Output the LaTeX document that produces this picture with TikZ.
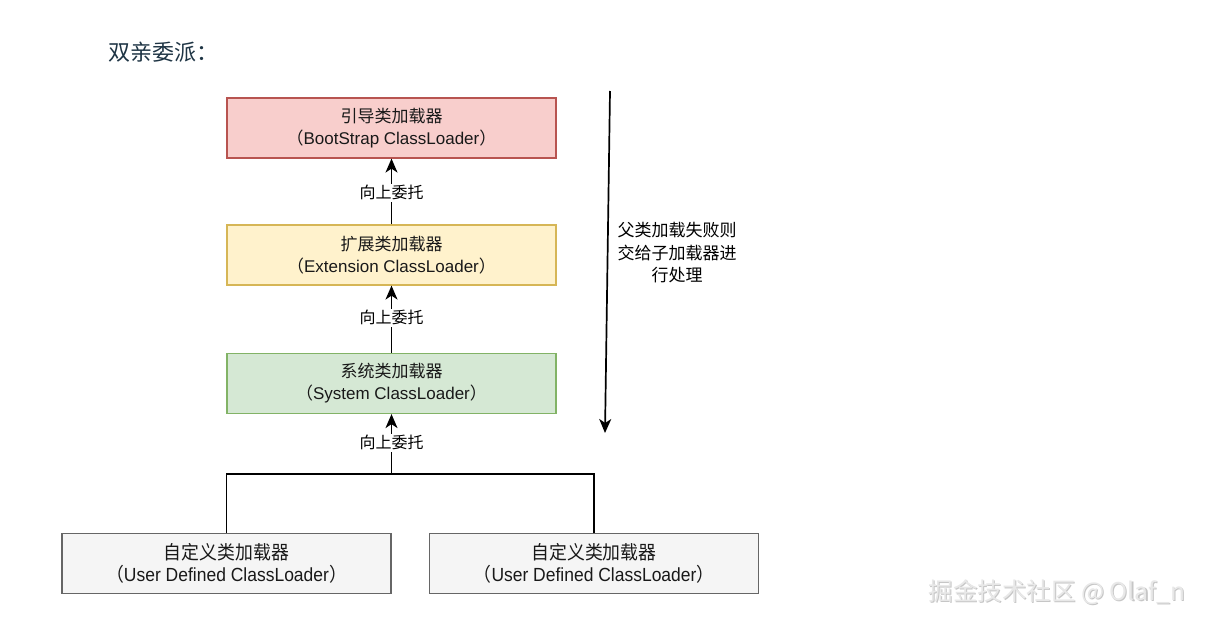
\documentclass[tikz,border=0pt]{standalone}
\usepackage{fontspec}
\setmainfont{Liberation Sans}
\newfontfamily\cjk{Noto Sans CJK SC}
\newfontfamily\cjkn[FakeStretch=0.94]{Noto Sans CJK SC}
\newfontfamily\latn[FakeStretch=0.92]{Liberation Sans}
\usetikzlibrary{arrows.meta}
\definecolor{redfill}{HTML}{F8CECC}\definecolor{reddraw}{HTML}{B85450}
\definecolor{yelfill}{HTML}{FFF2CC}\definecolor{yeldraw}{HTML}{D6B656}
\definecolor{grnfill}{HTML}{D5E8D4}\definecolor{grndraw}{HTML}{82B366}
\definecolor{gryfill}{HTML}{F5F5F5}\definecolor{grydraw}{HTML}{666666}
\definecolor{titlecol}{RGB}{30,52,68}
\tikzset{
  loaderbox/.style={draw, line width=1.2pt, minimum width=329pt, minimum height=60pt, inner sep=0pt, align=center, text=black!90,
    font=\fontsize{17}{22}\selectfont},
  userbox/.style={loaderbox, font=\fontsize{19}{22}\selectfont},
  arr/.style={line width=1.7pt, -{Stealth[length=14pt,width=12pt,inset=4pt]}},
  conn/.style={line width=1.7pt},
  lbl/.style={fill=white, inner sep=1.5pt, font=\cjk\fontsize{16}{20}\selectfont},
}
\begin{document}
\begin{tikzpicture}[x=1pt,y=-1pt]
\useasboundingbox (0,0) rectangle (1209,624);
\fill[white] (0,0) rectangle (1209,624);
\node[anchor=west, text=titlecol, font=\cjk\fontsize{22}{26}\selectfont] (title) at (105,52) {双亲委派：};

\node[loaderbox, fill=redfill, draw=reddraw] (boot) at (391.5,128) {{\cjk 引导类加载器}\\{\cjk （}BootStrap ClassLoader{\cjk ）}};
\node[loaderbox, fill=yelfill, draw=yeldraw] (ext) at (391.5,255) {{\cjk 扩展类加载器}\\{\cjk （}Extension ClassLoader{\cjk ）}};
\node[loaderbox, fill=grnfill, draw=grndraw] (sys) at (391.5,383.5) {{\cjk 系统类加载器}\\{\cjk （}System ClassLoader{\cjk ）}};
\node[userbox, fill=gryfill, draw=grydraw] (user1) at (226.5,563.5) {{\cjkn 自定义类加载器}\\{\cjkn （}{\latn User Defined ClassLoader}{\cjkn ）}};
\node[userbox, fill=gryfill, draw=grydraw] (user2) at (594,563.5) {{\cjkn 自定义类加载器}\\{\cjkn （}{\latn User Defined ClassLoader}{\cjkn ）}};

\draw[arr] (ext.north) -- node[lbl, pos=0.48] (l1) {向上委托} (boot.south);
\draw[arr] (sys.north) -- node[lbl, pos=0.52] (l2) {向上委托} (ext.south);
\coordinate (junc) at (391.5,474);
\draw[arr] (junc) -- node[lbl, pos=0.52] (l3) {向上委托} (sys.south);
\draw[conn] (user1.north) |- (junc) -| (user2.north);

\coordinate (dtop) at (610,91);
\coordinate (dbot) at (605,433);
\draw[arr] (dtop) -- (dbot);
\node[align=center, font=\cjk\fontsize{17}{22.5}\selectfont] (note) at (677,253) {父类加载失败则\\交给子加载器进\\行处理};

\node[anchor=west, text=gray!45, font=\cjk\fontsize{24.5}{28}\selectfont] (wmshadow) at (926.2,593.2) {掘金技术社区 @ Olaf\_n};
\node[anchor=west, text=gray!18, font=\cjk\fontsize{24.5}{28}\selectfont] (wm) at (925,592) {掘金技术社区 @ Olaf\_n};
\end{tikzpicture}
\end{document}
